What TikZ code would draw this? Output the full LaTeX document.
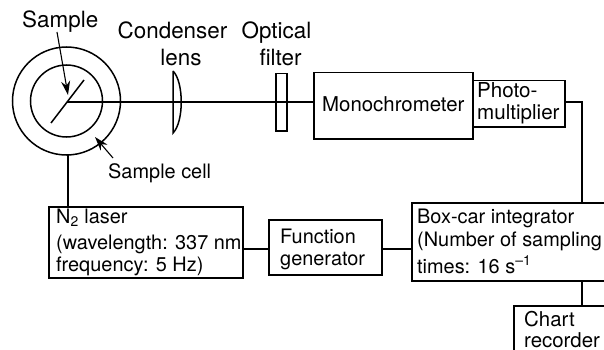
\documentclass[tikz,border=0pt]{standalone}
\usepackage{fontspec}
\setmainfont{TeX Gyre Heros}
\usetikzlibrary{arrows.meta}
\tikzset{
 x=1pt,y=-1pt,
 ln/.style={line width=1.5pt,draw=black},
 boxn/.style={ln,rectangle,inner sep=0pt,anchor=north west},
 ring/.style={ln,circle,inner sep=0pt},
 txt/.style={inner sep=0pt,align=left,font=\fontsize{19.9}{21}\selectfont},
 big/.style={inner sep=0pt,font=\fontsize{22.4}{24}\selectfont},
 arr/.style={line width=1.1pt,-{Stealth[length=14pt,width=9pt]}},
}
\begin{document}
\begin{tikzpicture}
\useasboundingbox (0,0) rectangle (604,350);
\clip (0,0) rectangle (604,350);
% sample cell
\node[ring,minimum size=108pt] (outer) at (66.5,101) {};
\node[ring,minimum size=72pt] (inner) at (66.5,101) {};
\coordinate (c) at (67,102);
\coordinate (s1) at (51,123);
\coordinate (s2) at (84,80);
\draw[ln] (s1) -- (s2);
% boxes
\node[boxn,minimum width=159pt,minimum height=66pt] (mono) at (313,72) {};
\node[boxn,minimum width=92pt,minimum height=46pt] (pm) at (472,80) {};
\node[boxn,minimum width=205pt,minimum height=78pt] (boxcar) at (411,202) {};
\node[boxn,minimum width=113pt,minimum height=55pt] (fg) at (268,219) {};
\node[boxn,minimum width=194pt,minimum height=71pt,line width=1.9pt] (laser) at (48,206) {};
\node[boxn,minimum width=105pt,minimum height=60pt] (chart) at (513,305) {};
\node[boxn,minimum width=11pt,minimum height=57pt] (filter) at (275,73) {};
% lens
\coordinate (l1) at (173,71);
\coordinate (l2) at (173,133);
\draw[ln] (l1) -- (l2) .. controls (184,122) and (184,82) .. (l1);
% connectors
\draw[ln] (c) -- (mono.west |- c);
\coordinate (pmr) at (pm.east |- c);
\coordinate (bct) at (582,202);
\draw[ln] (pmr) -| (bct);
\coordinate (ltop) at (68,155);
\draw[ln] (ltop) -- (ltop |- laser.north);
\coordinate (lf) at (laser.east |- 0,249);
\draw[ln] (lf) -- (fg.west |- lf);
\draw[ln] (fg.east |- lf) -- (boxcar.west |- lf);
\draw[ln] (582,280) coordinate (bcb) -- (bcb |- chart.north);
% pointers
\coordinate (a1) at (57,32);
\coordinate (a2) at (68,95);
\coordinate (b1) at (113,158);
\coordinate (b2) at (95,137);
\draw[arr] (a1) -- (a2);
\draw[arr] (b1) -- (b2);
% labels
\node[big,anchor=base west] (tS) at (22,28) {Sample};
\node[big,anchor=base] (tC) at (172.5,39) {Condenser};
\node[big,anchor=base] (tL) at (181,66) {lens};
\node[big,anchor=base] (tO) at (276.5,39) {Optical};
\node[big,anchor=base] (tF) at (280.5,66) {filter};
\node[txt,anchor=base west,font=\fontsize{20.4}{21}\selectfont] (tM) at (322,111) {Monochrometer};
\node[txt,anchor=base west,font=\fontsize{20.6}{21}\selectfont] (tP) at (477,98) {Photo-};
\node[txt,anchor=base west,font=\fontsize{20.6}{21}\selectfont] (tP2) at (477,119) {multiplier};
\node[txt,anchor=base west] (tSC) at (108,178) {Sample cell};
\node[txt,anchor=base west] (tN) at (56,223) {N\textsubscript{2} laser};
\node[txt,anchor=base west] (tW) at (56,249) {(wavelength: 337 nm};
\node[txt,anchor=base west] (tQ) at (56,271) {frequency: 5 Hz)};
\node[txt,anchor=base west] (tFu) at (280,243) {Function};
\node[txt,anchor=base west] (tG) at (280,265) {generator};
\node[txt,anchor=base west] (tB) at (417,223) {Box-car integrator};
\node[txt,anchor=base west] (tNu) at (417,246) {(Number of sampling};
\node[txt,anchor=base west] (tT) at (417,273) {times: 16 s\textsuperscript{–1}};
\node[txt,anchor=base west,font=\fontsize{20.4}{21}\selectfont] (tCh) at (524,326) {Chart};
\node[txt,anchor=base west,font=\fontsize{20.4}{21}\selectfont] (tR) at (524,347) {recorder};
\end{tikzpicture}
\end{document}
